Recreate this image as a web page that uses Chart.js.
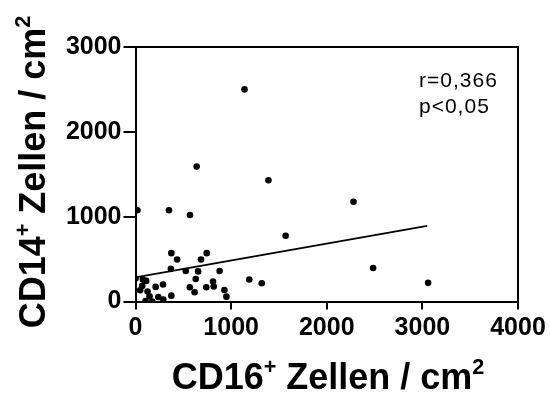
<!DOCTYPE html>
<html>
<head>
<meta charset="utf-8">
<script src="https://cdn.jsdelivr.net/npm/chart.js@4/dist/chart.umd.min.js"></script>
<style>
    html, body { margin: 0; padding: 0; background: #fff; }
    #wrap { width: 550px; height: 396px; }
</style>
</head>
<body>
<div id="wrap"><canvas id="chart"></canvas></div>
<script>
// CD16+ (x) vs CD14+ (y), cells per cm2
const cd16 = [1140, 640, 1390, 20, 350, 570, 1570, 375, 745, 435, 685, 370, 525, 655, 880,
    0, 77, 112, 630, 1190, 1320, 811, 818, 288, 211, 70, 49, 126, 568, 740,
    618, 930, 951, 375, 147, 239, 291, 105, 175, 2280, 2485, 3060];
const cd14 = [2500, 1590, 1430, 1075, 1075, 1020, 775, 570, 570, 495, 495, 385, 360, 355, 360,
    270, 259, 243, 265, 260, 215, 235, 176, 200, 172, 184, 132, 117, 168, 168,
    109, 136, 57, 69, 61, 53, 22, 6, 0, 1175, 395, 220];

// linear fit shown on the plot
const fitX = [0, 3050];
const fitY = [285, 892];

const xTicks = [0, 1000, 2000, 3000, 4000];
const yTicks = [0, 1000, 2000, 3000];
const statLines = ['r=0,366', 'p<0,05'];

const points = cd16.map((x, i) => ({ x: x, y: cd14[i] }));
const fitLine = fitX.map((x, i) => ({ x: x, y: fitY[i] }));

// text with superscripts, drawn piece by piece
function drawSupText(ctx, parts, size) {
    let w = 0;
    parts.forEach(p => {
        ctx.font = `bold ${p.sup ? size * 0.6 : size}px Arial, "Liberation Sans", sans-serif`;
        w += ctx.measureText(p.t).width;
    });
    let x = -w / 2;
    parts.forEach(p => {
        ctx.font = `bold ${p.sup ? size * 0.6 : size}px Arial, "Liberation Sans", sans-serif`;
        ctx.fillText(p.t, x, p.sup ? -size * 0.42 : 0);
        x += ctx.measureText(p.t).width;
    });
}

const decorPlugin = {
    id: 'decor',
    afterDraw(chart) {
        const ctx = chart.ctx;
        const area = chart.chartArea;
        ctx.save();
        // top and right frame
        ctx.strokeStyle = '#000';
        ctx.lineWidth = 2;
        ctx.beginPath();
        ctx.moveTo(area.left, area.top);
        ctx.lineTo(area.right, area.top);
        ctx.lineTo(area.right, area.bottom);
        ctx.stroke();

        ctx.fillStyle = '#000';
        ctx.textAlign = 'left';
        ctx.textBaseline = 'alphabetic';

        // x title
        ctx.save();
        ctx.translate(328, 389);
        drawSupText(ctx, [
            { t: 'CD16' }, { t: '+', sup: true }, { t: ' Zellen / cm' }, { t: '2', sup: true }
        ], 36);
        ctx.restore();

        // y title
        ctx.save();
        ctx.translate(45, 172);
        ctx.rotate(-Math.PI / 2);
        drawSupText(ctx, [
            { t: 'CD14' }, { t: '+', sup: true }, { t: ' Zellen / cm' }, { t: '2', sup: true }
        ], 36);
        ctx.restore();

        // stats
        ctx.font = '21px Arial, "Liberation Sans", sans-serif';
        ctx.letterSpacing = '1px';
        ctx.fillText(statLines[0], 419, 87);
        ctx.fillText(statLines[1], 419, 113);
        ctx.restore();
    }
};

const tickFont = { family: 'Arial, "Liberation Sans", sans-serif', size: 25, weight: 'bold' };

new Chart(document.getElementById('chart'), {
    type: 'scatter',
    data: {
        datasets: [
            {
                data: points,
                backgroundColor: '#000',
                borderColor: '#000',
                pointRadius: 3.3,
                pointBorderWidth: 0,
            },
            {
                type: 'line',
                data: fitLine,
                borderColor: '#000',
                borderWidth: 1.8,
                pointRadius: 0,
                fill: false,
            }
        ]
    },
    options: {
        responsive: true,
        maintainAspectRatio: false,
        animation: false,
        layout: { padding: { left: 0, right: 32, top: 47, bottom: 0 } },
        plugins: {
            legend: { display: false },
            tooltip: { enabled: false },
        },
        scales: {
            x: {
                type: 'linear',
                min: 0,
                max: 4000,
                afterBuildTicks: (scale) => { scale.ticks = xTicks.map(v => ({ value: v })); },
                afterFit: (scale) => { scale.height = 94.5; },
                border: { display: true, color: '#000', width: 2 },
                grid: { display: true, drawOnChartArea: false, drawTicks: true, tickLength: 8, color: '#000', lineWidth: 2 },
                ticks: { color: '#000', font: tickFont, padding: 4, maxRotation: 0, callback: (v) => String(v) },
            },
            y: {
                type: 'linear',
                min: 0,
                max: 3000,
                afterBuildTicks: (scale) => { scale.ticks = yTicks.map(v => ({ value: v })); },
                afterFit: (scale) => { scale.width = 135.5; },
                border: { display: true, color: '#000', width: 2 },
                grid: { display: true, drawOnChartArea: false, drawTicks: true, tickLength: 12, color: '#000', lineWidth: 2 },
                ticks: { color: '#000', font: tickFont, padding: 2, callback: (v) => String(v) },
            }
        }
    },
    plugins: [decorPlugin]
});
</script>
</body>
</html>
